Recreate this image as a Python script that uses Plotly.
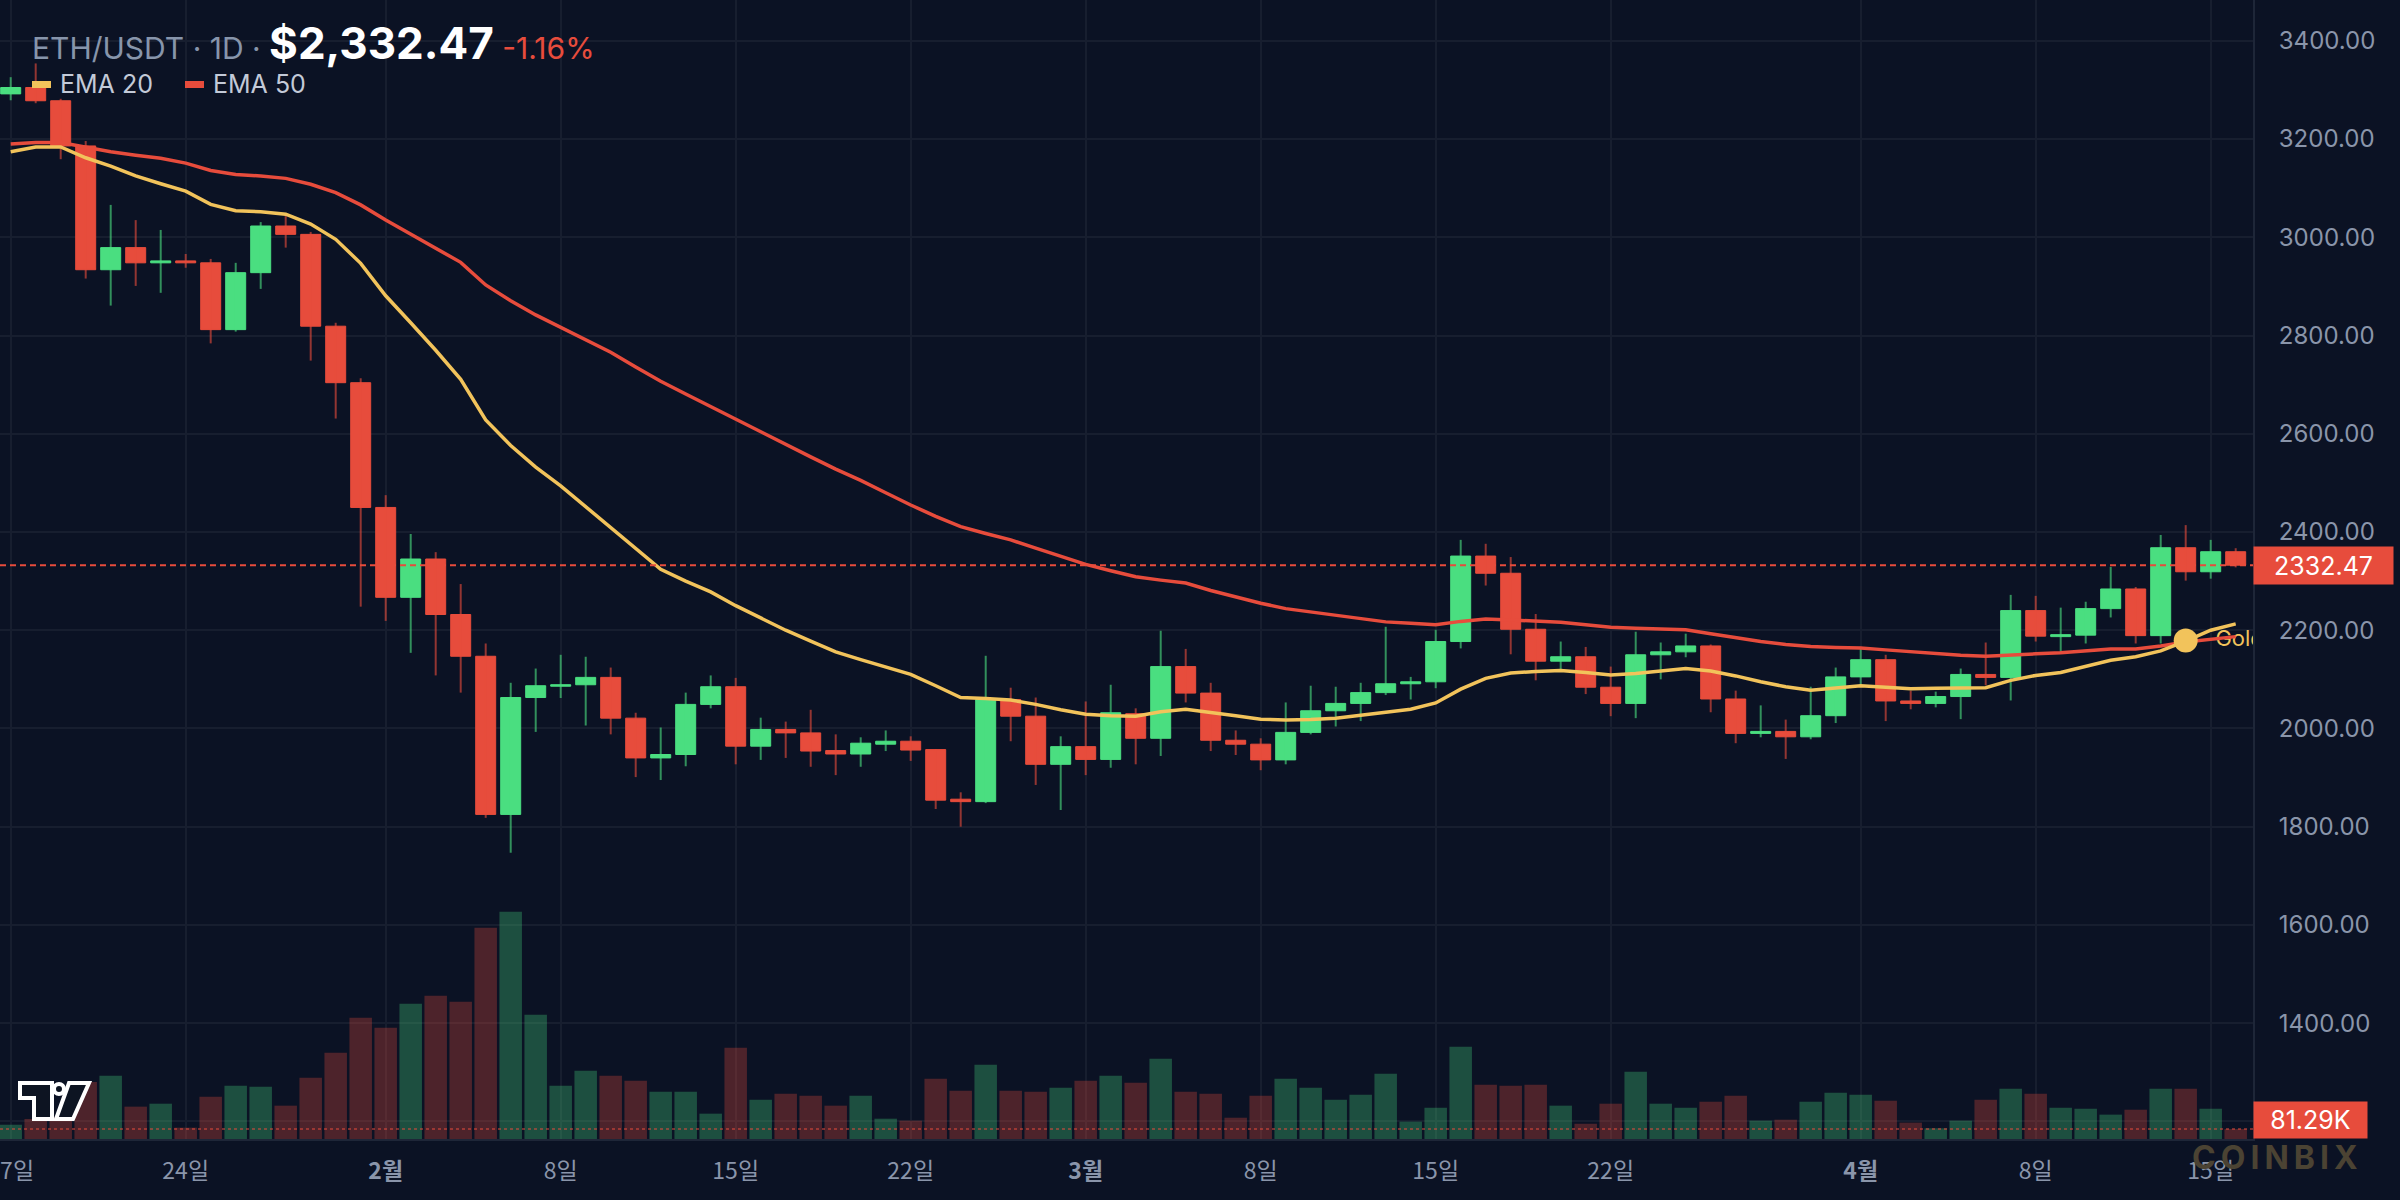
import plotly.graph_objects as go
import pandas as pd

# ---------------- data ----------------
start_date = "2026-01-17"
n_days = 90
dates = pd.date_range(start_date, periods=n_days, freq="D")

opens = [3292, 3305, 3278, 3186, 2934, 2979, 2948, 2952, 2948, 2812,
         2928, 3023, 3006, 2819, 2704, 2450, 2267, 2345, 2232, 2147,
         1825, 2063, 2086, 2089, 2104, 2021, 1940, 1947, 2049, 2085,
         1964, 1998, 1991, 1955, 1948, 1968, 1974, 1957, 1856, 1851,
         2059, 2025, 1927, 1963, 1937, 2030, 1980, 2126, 2072, 1976,
         1968, 1936, 1992, 2036, 2051, 2073, 2091, 2095, 2177, 2351,
         2316, 2202, 2137, 2146, 2084, 2051, 2150, 2156, 2168, 2060,
         1990, 1994, 1983, 2026, 2105, 2140, 2056, 2051, 2065, 2110,
         2104, 2240, 2187, 2190, 2244, 2284, 2189, 2368, 2319, 2359.85]
highs = [3326, 3354, 3282, 3196, 3066, 3035, 3015, 2966, 2956, 2948,
         3031, 3044, 3011, 2826, 2713, 2475, 2396, 2359, 2294, 2173,
         2093, 2122, 2150, 2146, 2124, 2032, 2002, 2073, 2108, 2103,
         2022, 2014, 2038, 1988, 1982, 1996, 1984, 1958, 1870, 2148,
         2083, 2063, 1984, 2055, 2089, 2041, 2199, 2162, 2093, 1996,
         1980, 2053, 2087, 2085, 2093, 2207, 2105, 2201, 2384, 2376,
         2349, 2233, 2177, 2166, 2126, 2197, 2175, 2193, 2171, 2077,
         2047, 2018, 2085, 2124, 2166, 2150, 2077, 2075, 2122, 2175,
         2272, 2270, 2246, 2258, 2329, 2288, 2394, 2414, 2384, 2367]
lows = [3279, 3273, 3159, 2916, 2861, 2901, 2887, 2938, 2784, 2808,
        2895, 2979, 2749, 2631, 2248, 2219, 2154, 2108, 2073, 1818,
        1747, 1993, 2062, 2006, 1988, 1901, 1895, 1923, 2041, 1927,
        1936, 1940, 1922, 1905, 1922, 1954, 1934, 1836, 1800, 1848,
        1974, 1885, 1834, 1905, 1920, 1927, 1944, 2053, 1954, 1946,
        1915, 1927, 1988, 2004, 2015, 2068, 2059, 2082, 2163, 2291,
        2151, 2098, 2120, 2070, 2025, 2021, 2100, 2145, 2033, 1970,
        1982, 1938, 1978, 2011, 2089, 2015, 2039, 2043, 2019, 2088,
        2057, 2177, 2155, 2173, 2226, 2173, 2173, 2301, 2305, 2328]
closes = [3305, 3278, 3186, 2934, 2979, 2948, 2952, 2948, 2812, 2928,
          3023, 3006, 2819, 2704, 2450, 2267, 2345, 2232, 2147, 1825,
          2063, 2087, 2089, 2104, 2021, 1940, 1947, 2049, 2085, 1964,
          1998, 1991, 1954, 1948, 1970, 1974, 1956, 1854, 1851, 2059,
          2025, 1927, 1963, 1937, 2032, 1980, 2126, 2072, 1976, 1968,
          1936, 1992, 2036, 2051, 2073, 2091, 2095, 2177, 2351, 2316,
          2202, 2137, 2146, 2084, 2051, 2150, 2156, 2168, 2060, 1990,
          1994, 1983, 2026, 2105, 2140, 2056, 2051, 2065, 2110, 2104,
          2240, 2188, 2191, 2244, 2284, 2189, 2368, 2319, 2359.85, 2332.47]
volumes_k = [116, 163, 179, 463, 515, 263, 287, 92, 344, 433,
             425, 271, 498, 702, 986, 905, 1100, 1165, 1116, 1718,
             1848, 1010, 433, 555, 515, 474, 385, 385, 206, 742,
             319, 368, 352, 271, 352, 165, 149, 490, 393, 604,
             393, 385, 417, 474, 515, 458, 653, 385, 368, 173,
             352, 490, 417, 319, 360, 531, 141, 254, 750, 441,
             433, 441, 271, 124, 287, 547, 287, 254, 303, 352,
             149, 157, 303, 376, 360, 311, 133, 87, 149, 319,
             409, 368, 254, 246, 198, 238, 409, 409, 246, 81.29]
ema20 = [3174, 3184, 3184, 3162, 3145, 3125, 3109, 3094, 3067, 3054,
         3052, 3047, 3027, 2996, 2947, 2881, 2826, 2770, 2711, 2628,
         2576, 2532, 2494, 2452, 2410, 2368, 2324, 2300, 2278, 2250,
         2225, 2200, 2178, 2156, 2140, 2125, 2110, 2087, 2063, 2061,
         2058, 2049, 2038, 2029, 2026, 2025, 2034, 2039, 2033, 2026,
         2019, 2017, 2018, 2021, 2027, 2033, 2039, 2052, 2080, 2102,
         2113, 2116, 2118, 2114, 2109, 2112, 2117, 2122, 2117, 2107,
         2095, 2085, 2078, 2082, 2087, 2084, 2081, 2082, 2083, 2083,
         2098, 2108, 2114, 2126, 2139, 2146, 2158, 2178, 2200, 2213]
ema50 = [3190, 3193, 3193, 3184, 3174, 3167, 3161, 3151, 3136, 3128,
         3125, 3120, 3108, 3091, 3066, 3035, 3006, 2979, 2949, 2903,
         2871, 2842, 2817, 2792, 2766, 2736, 2707, 2681, 2655, 2629,
         2603, 2578, 2553, 2528, 2505, 2480, 2455, 2432, 2411, 2397,
         2384, 2367, 2350, 2334, 2321, 2309, 2302, 2296, 2281, 2268,
         2255, 2244, 2237, 2231, 2224, 2217, 2214, 2211, 2218, 2223,
         2221, 2219, 2216, 2211, 2206, 2204, 2203, 2201, 2193, 2185,
         2177, 2171, 2167, 2165, 2164, 2160, 2156, 2152, 2149, 2147,
         2150, 2152, 2154, 2158, 2162, 2162, 2168, 2176, 2182, 2187]

tick_dates = ["2026-01-17", "2026-01-24", "2026-02-01", "2026-02-08", "2026-02-15",
              "2026-02-22", "2026-03-01", "2026-03-08", "2026-03-15", "2026-03-22",
              "2026-04-01", "2026-04-08", "2026-04-15"]
tick_labels = ["17일", "24일", "<b>2월</b>", "8일", "15일", "22일", "<b>3월</b>",
               "8일", "15일", "22일", "<b>4월</b>", "8일", "15일"]
price_ticks = [1200, 1400, 1600, 1800, 2000, 2200, 2400, 2600, 2800, 3000, 3200, 3400]
price_tick_labels = ["" if v == 1200 else f"{v:.2f}" for v in price_ticks]

golden_cross_date = "2026-04-14"
golden_cross_price = 2179
golden_cross_label = "Golden Cross"
symbol_text = "ETH/USDT · 1D · "

# ---------------- style / geometry ----------------
BG = "#0b1224"
GRID = "#171e2f"
AXIS_TXT = "#8a95aa"
GREEN = "#4ade80"
RED = "#e74c3c"
YELLOW = "#f2c35b"
WICK_UP = "rgba(74,222,128,0.62)"
WICK_DN = "rgba(231,76,60,0.62)"
VOL_UP = "rgba(74,222,128,0.30)"
VOL_DN = "rgba(231,76,60,0.30)"

PLOT_W, PLOT_H = 2253, 1139
PX_PER_DAY = 25.0
first_candle_px = 10.7
x_start = pd.Timestamp(start_date) - pd.Timedelta(days=first_candle_px / PX_PER_DAY)
x_end = x_start + pd.Timedelta(days=PLOT_W / PX_PER_DAY)
PRICE_PER_PX = 2.036
price_top = 2400 + 532 * PRICE_PER_PX
price_bot = 2400 - (PLOT_H - 532) * PRICE_PER_PX
vol_top = PLOT_H * (volumes_k[-1] / 10.0)


def px(x):
    return x / PLOT_W


def py(y):
    return 1 - y / PLOT_H


# ---------------- traces ----------------
fig = go.Figure()

vol_colors = [VOL_UP if c >= o else VOL_DN for o, c in zip(opens, closes)]
fig.add_trace(go.Bar(x=dates, y=volumes_k, marker=dict(color=vol_colors, line=dict(width=0)),
                     width=0.9 * 86400000, yaxis="y", name="Volume"))

wx_up, wy_up, wx_dn, wy_dn = [], [], [], []
for d, o, h, l, c in zip(dates, opens, highs, lows, closes):
    if c >= o:
        wx_up += [d, d, None]
        wy_up += [l, h, None]
    else:
        wx_dn += [d, d, None]
        wy_dn += [l, h, None]
fig.add_trace(go.Scatter(x=wx_up, y=wy_up, mode="lines", line=dict(color=WICK_UP, width=2),
                         yaxis="y2", connectgaps=False, name="wick up"))
fig.add_trace(go.Scatter(x=wx_dn, y=wy_dn, mode="lines", line=dict(color=WICK_DN, width=2),
                         yaxis="y2", connectgaps=False, name="wick down"))

body_hi = [max(o, c) for o, c in zip(opens, closes)]
body_lo = [min(o, c) for o, c in zip(opens, closes)]
fig.add_trace(go.Candlestick(
    x=dates, open=opens, high=body_hi, low=body_lo, close=closes, yaxis="y2",
    increasing=dict(line=dict(color=GREEN, width=1), fillcolor=GREEN),
    decreasing=dict(line=dict(color=RED, width=1), fillcolor=RED),
    whiskerwidth=0, name="ETH/USDT"))

fig.add_trace(go.Scatter(x=[golden_cross_date], y=[golden_cross_price], mode="markers+text",
                         marker=dict(size=46, color="rgba(0,0,0,0)"),
                         text=[golden_cross_label], textposition="middle right",
                         textfont=dict(family="Inter", size=22, color=YELLOW),
                         cliponaxis=True, yaxis="y2", name="label"))

fig.add_trace(go.Scatter(x=dates, y=ema50, mode="lines", line=dict(color=RED, width=3.5),
                         yaxis="y2", name="EMA 50"))
fig.add_trace(go.Scatter(x=dates, y=ema20, mode="lines", line=dict(color=YELLOW, width=3.5),
                         yaxis="y2", name="EMA 20"))
fig.add_trace(go.Scatter(x=[golden_cross_date], y=[golden_cross_price], mode="markers",
                         marker=dict(size=24, color=YELLOW, line=dict(width=0)),
                         yaxis="y2", name="Golden Cross"))

# ---------------- layout ----------------
last = closes[-1]
pct = (closes[-1] - closes[-2]) / closes[-2] * 100

shapes = [
    dict(type="line", xref="paper", yref="y2", x0=0, x1=1, y0=last, y1=last,
         line=dict(color=RED, width=2, dash="6px,4px"), layer="above"),
    dict(type="line", xref="paper", yref="y", x0=0, x1=1, y0=volumes_k[-1], y1=volumes_k[-1],
         line=dict(color="rgba(231,76,60,0.5)", width=2, dash="3px,3px"), layer="above"),
    # legend swatches
    dict(type="rect", xref="paper", yref="paper", x0=px(32), x1=px(51), y0=py(88), y1=py(81),
         fillcolor=YELLOW, line=dict(width=0), layer="above"),
    dict(type="rect", xref="paper", yref="paper", x0=px(185), x1=px(204), y0=py(88), y1=py(81),
         fillcolor=RED, line=dict(width=0), layer="above"),
]


def poly(points):
    return "M " + " L ".join(f"{px(a):.5f},{py(b):.5f}" for a, b in points) + " Z"


logo_line = dict(color="#ffffff", width=4)
shapes += [
    dict(type="path", xref="paper", yref="paper", layer="above",
         path=poly([(20, 1083), (52, 1083), (52, 1119), (34, 1119), (34, 1098), (20, 1098)]),
         fillcolor="#0d1422", line=logo_line),
    dict(type="circle", xref="paper", yref="paper", layer="above",
         x0=px(54), x1=px(64), y0=py(1094), y1=py(1084), fillcolor="#0d1422", line=logo_line),
    dict(type="path", xref="paper", yref="paper", layer="above",
         path=poly([(69, 1083), (89, 1083), (73, 1119), (56, 1119)]),
         fillcolor="#0d1422", line=logo_line),
]

annotations = [
    dict(xref="paper", yref="paper", x=px(30), y=py(43), xanchor="left", yanchor="middle",
         showarrow=False, font=dict(family="Inter", size=30, color="#8795ab"),
         text=(f"{symbol_text}<span style='font-size:44px;color:#ffffff'><b>${last:,.2f}</b></span>"
               f" <span style='color:{RED}'>{pct:.2f}%</span>")),
    dict(xref="paper", yref="paper", x=px(58), y=py(84), xanchor="left", yanchor="middle",
         showarrow=False, font=dict(family="Inter", size=25, color="#c3cad8"), text="EMA 20"),
    dict(xref="paper", yref="paper", x=px(211), y=py(84), xanchor="left", yanchor="middle",
         showarrow=False, font=dict(family="Inter", size=25, color="#c3cad8"), text="EMA 50"),
    dict(xref="paper", yref="y2", x=1, y=last, xanchor="left", yanchor="middle",
         showarrow=False, text=f"{last:.2f}", font=dict(family="Inter", size=25, color="#ffffff"),
         bgcolor=RED, borderpad=6, width=127, height=25, align="center"),
    dict(xref="paper", yref="paper", x=1, y=0, xanchor="left", yanchor="bottom",
         showarrow=False, text=f"{volumes_k[-1]:.2f}K", font=dict(family="Inter", size=25, color="#ffffff"),
         bgcolor=RED, borderpad=5, width=103, height=26, align="center"),
    dict(xref="paper", yref="paper", x=px(2190), y=py(1157), xanchor="left", yanchor="middle",
         showarrow=False, text="<b>C\u2009O\u2009I\u2009N\u2009B\u2009I\u2009X</b>",
         font=dict(family="Inter", size=32, color="#4b4333")),
]

fig.update_layout(
    width=2400, height=1200,
    margin=dict(l=0, r=2400 - PLOT_W, t=0, b=1200 - PLOT_H, pad=0, autoexpand=False),
    paper_bgcolor=BG, plot_bgcolor=BG,
    showlegend=False, hovermode=False,
    boxgap=0.2, boxgroupgap=0,
    shapes=shapes, annotations=annotations,
    xaxis=dict(type="date", range=[x_start, x_end], tickvals=tick_dates, ticktext=tick_labels,
               showgrid=True, gridcolor=GRID, gridwidth=2, zeroline=False, automargin=False,
               rangeslider=dict(visible=False), ticks="", ticklabelstandoff=10,
               ticklabeloverflow="allow",
               tickfont=dict(family="Noto Sans CJK KR", size=23, color=AXIS_TXT),
               showline=True, linecolor="#1e2638", linewidth=2, fixedrange=True),
    yaxis=dict(range=[0, vol_top], visible=False, showgrid=False, zeroline=False,
               automargin=False, fixedrange=True),
    yaxis2=dict(overlaying="y", side="right", range=[price_bot, price_top],
                tickvals=price_ticks, ticktext=price_tick_labels, automargin=False,
                showgrid=True, gridcolor=GRID, gridwidth=2, zeroline=False,
                ticks="", ticklabelstandoff=19, ticklabeloverflow="allow",
                tickfont=dict(family="Inter", size=24, color=AXIS_TXT),
                showline=True, linecolor="#1e2638", linewidth=2, fixedrange=True),
)

fig.write_html("out.html")
